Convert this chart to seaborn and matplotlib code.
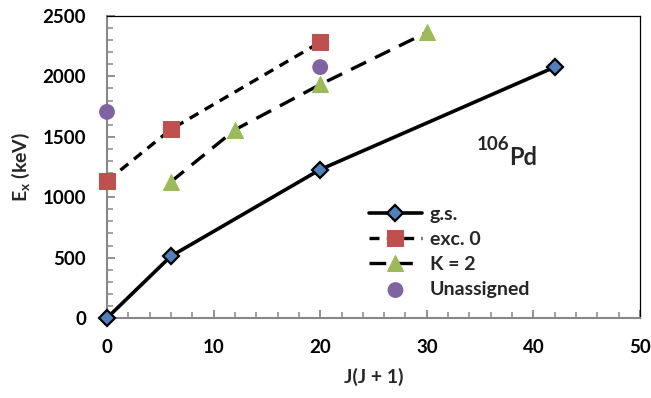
import pandas as pd
import matplotlib
matplotlib.use("Agg")
import matplotlib.pyplot as plt
import seaborn as sns

# level energies
gs_x = [0, 6, 20, 42]
gs_y = [0, 512, 1229, 2077]
exc_x = [0, 6, 20]
exc_y = [1134, 1562, 2283]
k2_x = [6, 12, 20, 30]
k2_y = [1128, 1558, 1933, 2364]
un_x = [0, 20]
un_y = [1706, 2077]

sns.set_style("ticks")
plt.rcParams['font.family'] = ['Lato', 'DejaVu Sans']
plt.rcParams['font.weight'] = 'bold'
plt.rcParams['mathtext.fontset'] = 'custom'
plt.rcParams['mathtext.rm'] = 'Lato:bold'
plt.rcParams['mathtext.it'] = 'Lato:bold'
plt.rcParams['mathtext.bf'] = 'Lato:bold'

fig = plt.figure(figsize=(6.51, 3.98), dpi=100)
ax = fig.add_axes([107 / 651, 80 / 398, 533 / 651, 302 / 398])

gs = pd.DataFrame({'x': gs_x, 'y': gs_y})
exc = pd.DataFrame({'x': exc_x, 'y': exc_y})
k2 = pd.DataFrame({'x': k2_x, 'y': k2_y})
un = pd.DataFrame({'x': un_x, 'y': un_y})

sns.lineplot(data=gs, x='x', y='y', ax=ax, color='black', lw=2.6,
             marker='D', ms=8, mfc='#4F81BD', mec='black', mew=1.6,
             label='g.s.', clip_on=False, zorder=4)
sns.lineplot(data=exc, x='x', y='y', ax=ax, color='black', lw=2.4,
             linestyle=(0, (3, 2.2)),
             marker='s', ms=11, mfc='#C0504D', mec='#C0504D',
             label='exc. 0', clip_on=False, zorder=4)
sns.lineplot(data=k2, x='x', y='y', ax=ax, color='black', lw=2.4,
             linestyle=(0, (5, 3)),
             marker='^', ms=11, mfc='#9BBB59', mec='#9BBB59',
             label='K = 2', clip_on=False, zorder=4)
sns.scatterplot(data=un, x='x', y='y', ax=ax, color='#8064A2', s=130,
                edgecolor='none', label='Unassigned', clip_on=False, zorder=4)

ax.set_xlim(0, 50)
ax.set_ylim(0, 2500)
ax.set_xticks(range(0, 51, 10))
ax.set_xticks(range(0, 51, 2), minor=True)
ax.set_yticks(range(0, 2501, 500))
ax.set_yticks(range(0, 2501, 100), minor=True)
ax.tick_params(axis='both', which='both', direction='in', colors='#888888',
               labelcolor='black', labelsize=13.5)
ax.tick_params(which='major', length=6, width=1.3)
ax.tick_params(which='minor', length=4, width=1.1)
ax.tick_params(axis='x', pad=15)
ax.tick_params(axis='y', pad=15)
for lbl in ax.get_xticklabels() + ax.get_yticklabels():
    lbl.set_fontweight('bold')

for side in ['left', 'bottom']:
    ax.spines[side].set_color('#888888')
    ax.spines[side].set_linewidth(1.5)
for side in ['top', 'right']:
    ax.spines[side].set_color('black')
    ax.spines[side].set_linewidth(0.9)

ax.set_xlabel('J(J + 1)', fontsize=14, fontweight='bold', labelpad=9)
ax.set_ylabel(r'E$_\mathregular{x}$ (keV)', fontsize=14, fontweight='bold', labelpad=8)

# nucleus tag: mass number as a raised smaller label before the symbol
ax.text(37.7, 1265, 'Pd', fontsize=17, fontweight='bold', ha='left', va='baseline')
ax.text(37.7, 1390, '106', fontsize=13.5, fontweight='bold', ha='right', va='baseline')

ax.legend(loc='upper left', bbox_to_anchor=(0.492, 0.372), frameon=False,
          fontsize=14, handlelength=2.7, handletextpad=0.4, labelspacing=0.42,
          borderaxespad=0, borderpad=0)

fig.savefig('out.png', dpi=100)
